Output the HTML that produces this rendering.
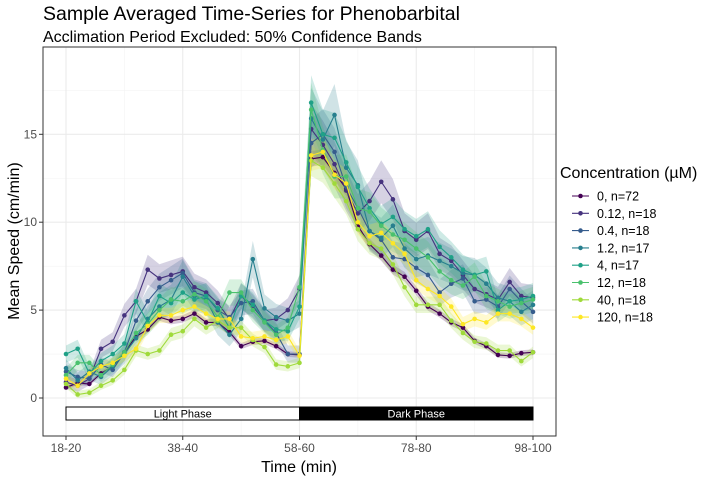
<!DOCTYPE html>
<html><head><meta charset="utf-8"><style>
body{margin:0;background:#fff;}
svg{display:block;font-family:"Liberation Sans",sans-serif;}
</style></head><body>
<svg id="chart" width="720" height="480">
<text x="43" y="20" font-size="19.5" fill="#000">Sample Averaged Time-Series for Phenobarbital</text>
<text x="43" y="42" font-size="16" fill="#000">Acclimation Period Excluded: 50% Confidence Bands</text>
<g id="grid"></g>
<g id="bands"></g>
<g id="lines"></g>
<g id="phase"></g>
<rect x="43" y="47" width="513" height="389" fill="none" stroke="#333" stroke-width="1"/>
<g id="axes"></g>
<text x="299" y="472" font-size="16" text-anchor="middle">Time (min)</text>
<text transform="translate(19,241) rotate(-90)" font-size="16" text-anchor="middle">Mean Speed (cm/min)</text>
<g id="legend"></g>
</svg>
<script>
const xTickLabels=["18-20","38-40","58-60","78-80","98-100"];
const yTicks=[0,5,10,15];
const seriesNames=["0, n=72","0.12, n=18","0.4, n=18","1.2, n=17","4, n=17","12, n=18","40, n=18","120, n=18"];
const colors=["#440154","#46337E","#365C8D","#277F8E","#1FA187","#4AC16D","#9FDA3A","#FDE725"];
const s0=[0.6,0.85,0.8,1.4,1.8,2.6,3.5,3.9,4.6,4.4,4.5,4.8,4.3,4.3,3.75,2.95,3.2,3.25,2.95,2.5,2.45,13.6,13.7,12.8,11.9,9.8,8.75,8.1,7.3,6.9,6.1,5.2,4.8,4.3,4.0,3.25,2.95,2.45,2.4,2.55,2.6];
const s1=[0.9,0.7,1.1,2.8,3.2,4.7,5.5,7.3,6.8,7.0,7.2,6.3,6.0,5.4,4.5,5.8,5.2,4.4,4.5,5.0,6.2,15.3,14.4,13.3,11.8,10.5,11.2,12.3,11.3,9.5,9.0,9.5,8.2,7.8,7.0,6.2,5.9,5.6,6.6,5.8,5.7];
const s2=[1.5,1.2,1.1,1.9,1.6,2.6,4.4,5.5,6.3,6.7,7.1,6.0,5.8,5.0,4.6,5.4,5.5,4.4,3.7,2.5,2.5,14.5,15.0,14.0,12.0,10.8,9.5,9.0,8.0,7.9,7.4,7.0,6.0,6.5,6.8,5.5,5.6,5.2,6.2,5.5,4.9];
const s3=[1.7,1.0,1.5,1.2,1.8,2.5,3.4,4.5,5.2,5.6,6.9,5.8,5.6,4.3,3.6,4.5,7.9,5.1,4.6,4.4,4.8,15.9,14.7,16.1,13.1,12.1,9.5,9.1,9.8,8.5,7.9,8.1,7.8,7.5,7.1,7.0,6.5,5.7,5.5,4.9,5.3];
const s4=[2.5,2.8,1.4,2.1,2.5,3.1,5.5,4.3,5.8,5.4,6.0,5.6,5.8,5.1,4.0,5.8,5.3,4.4,3.9,3.8,5.2,16.8,15.0,14.8,13.4,12.0,10.8,9.9,10.3,9.6,9.2,9.6,8.6,8.0,7.3,7.0,7.2,5.0,5.5,5.6,5.8];
const s5=[1.3,2.0,2.0,1.3,1.9,2.6,3.7,4.2,5.0,5.6,5.5,5.9,5.5,4.6,6.0,6.0,5.0,4.3,3.6,4.0,6.3,16.4,14.1,12.6,12.6,10.8,10.6,9.8,9.3,9.0,8.5,8.0,7.2,6.7,6.4,6.9,5.8,5.5,5.2,5.4,5.6];
const s6=[0.8,0.2,0.3,0.7,1.0,1.6,2.7,2.5,2.7,3.6,3.8,4.5,4.0,4.4,4.0,4.0,3.3,2.9,1.9,1.8,2.0,13.5,13.1,12.2,11.2,9.6,8.8,8.5,7.6,6.3,5.3,5.3,5.3,4.4,3.7,3.2,3.1,2.7,2.7,2.1,2.6];
const s7=[1.1,0.7,1.4,1.8,2.0,2.4,2.8,4.1,4.7,4.7,5.0,5.2,4.8,4.5,4.5,3.5,3.4,3.5,3.3,3.5,2.4,13.8,14.0,12.7,12.2,10.0,9.2,9.4,8.8,8.2,6.7,6.2,5.8,5.2,4.2,4.5,4.3,4.8,4.8,4.5,4.0];
const bandHalf=[0.2,0.6,0.6,0.7,0.6,0.6,0.4,0.4];
const series=[s0,s1,s2,s3,s4,s5,s6,s7];
const NS="http://www.w3.org/2000/svg";
const X0=66,X1=533,Y0=398,YPU=17.58;
const N=s0.length;
const xs=i=>X0+(X1-X0)*i/(N-1);
const ys=v=>Y0-v*YPU;
function mk(tag,attrs,parent){const e=document.createElementNS(NS,tag);for(const k in attrs)e.setAttribute(k,attrs[k]);parent.appendChild(e);return e;}
const grid=document.getElementById('grid');
for(let v=-2.5;v<=17.5;v+=5){const y=ys(v);if(y>47&&y<436){const l=mk('line',{x1:43,x2:556,y1:y,y2:y,stroke:'#f3f3f3','stroke-width':0.6},grid);}}
for(let k=0;k<4;k++){const x=X0+(X1-X0)*(k+0.5)/4;const l=mk('line',{x1:x,x2:x,y1:47,y2:436,stroke:'#f3f3f3','stroke-width':0.6},grid);}
yTicks.forEach(v=>{const y=ys(v);const l=mk('line',{x1:43,x2:556,y1:y,y2:y,stroke:'#ebebeb','stroke-width':1.1},grid);});
xTickLabels.forEach((t,k)=>{const x=X0+(X1-X0)*k/(xTickLabels.length-1);const l=mk('line',{x1:x,x2:x,y1:47,y2:436,stroke:'#ebebeb','stroke-width':1.1},grid);});
const bands=document.getElementById('bands'),lines=document.getElementById('lines');
series.forEach((s,si)=>{
  let up=s.map((v,i)=>xs(i)+','+ys(v+bandHalf[si]*(0.5+v/8)));
  let dn=s.map((v,i)=>xs(i)+','+ys(v-bandHalf[si]*(0.5+v/8))).reverse();
  const p=mk('polygon',{points:up.concat(dn).join(' '),fill:colors[si],'fill-opacity':0.22},bands);
  
});
series.forEach((s,si)=>{
  const g=mk('g',{},lines);
  
  const pl=mk('polyline',{points:s.map((v,i)=>xs(i)+','+ys(v)).join(' '),fill:'none',stroke:colors[si],'stroke-width':1.1},g);
  
  s.forEach((v,i)=>{const c=mk('circle',{cx:xs(i),cy:ys(v),r:2.3,fill:colors[si]},g);});
});
const ph=document.getElementById('phase');
const mid=xs((N-1)/2);
let r1=mk('rect',{x:X0,y:407,width:mid-X0,height:13,fill:'#fff',stroke:'#000','stroke-width':1},ph);

let r2=mk('rect',{x:mid,y:407,width:X1-mid,height:13,fill:'#000',stroke:'#000','stroke-width':1},ph);

let t1=mk('text',{x:(X0+mid)/2,y:417.5,'font-size':11,'text-anchor':'middle',fill:'#000'},ph);t1.textContent='Light Phase';

let t2=mk('text',{x:(X1+mid)/2,y:417.5,'font-size':11,'text-anchor':'middle',fill:'#fff'},ph);t2.textContent='Dark Phase';

const ax=document.getElementById('axes');
yTicks.forEach(v=>{const y=ys(v);mk('line',{x1:39,x2:43,y1:y,y2:y,stroke:'#333'},ax);const t=mk('text',{x:37,y:y+4,'font-size':12,'text-anchor':'end',fill:'#4d4d4d'},ax);t.textContent=v;});
xTickLabels.forEach((lab,k)=>{const x=X0+(X1-X0)*k/(xTickLabels.length-1);mk('line',{x1:x,x2:x,y1:436,y2:440,stroke:'#333'},ax);const t=mk('text',{x:x,y:452,'font-size':12,'text-anchor':'middle',fill:'#4d4d4d'},ax);t.textContent=lab;});
const lg=document.getElementById('legend');
let lt=mk('text',{x:560,y:178,'font-size':16,fill:'#000'},lg);lt.textContent='Concentration (µM)';

seriesNames.forEach((n,i)=>{const y=196+i*17.3;const g=mk('g',{},lg);

mk('line',{x1:572,x2:589,y1:y,y2:y,stroke:colors[i],'stroke-width':1.1},g);
mk('circle',{cx:580.5,cy:y,r:2.3,fill:colors[i]},g);
const t=mk('text',{x:597,y:y+4.5,'font-size':12.5,fill:'#000'},g);t.textContent=n;});
</script>
</body></html>
